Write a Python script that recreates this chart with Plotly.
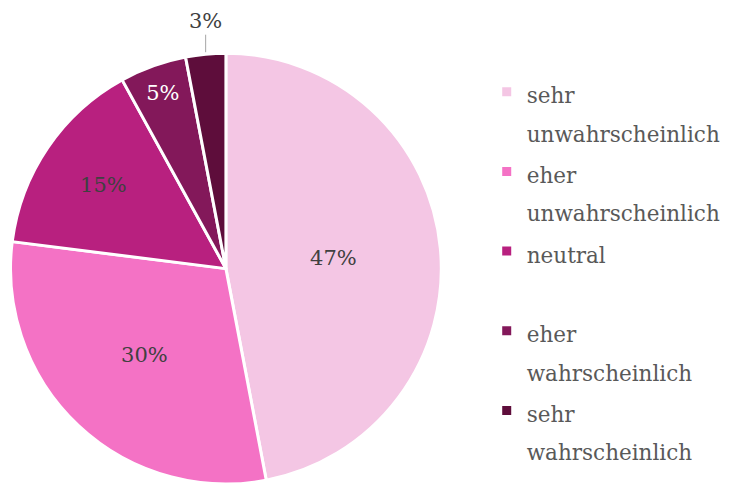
import math
import plotly.graph_objects as go

labels = ["sehr<br>unwahrscheinlich", "eher<br>unwahrscheinlich", "neutral<br>\u00a0",
          "eher<br>wahrscheinlich", "sehr<br>wahrscheinlich"]
values = [47, 30, 15, 5, 3]
colors = ["#F4C6E4", "#F472C5", "#B8207F", "#83185A", "#5E0D3B"]
text_colors = ["#404040", "#404040", "#404040", "#FFFFFF", "#404040"]
text_pos = ["inside", "inside", "inside", "inside", "none"]

W, H = 733, 484
FONT = "Palatino Linotype, Book Antiqua, Palatino, DejaVu Serif, serif"
LBL = 21
LEG = 21.5


def wrap(lbl):
    return "<br>".join(f"<span style='font-size:{LEG}px'>{p}</span>" for p in lbl.split("<br>"))


dom_x = [0.0096, 0.6068]
dom_y = [0.0, 0.89]

fig = go.Figure(go.Pie(
    labels=[wrap(l) for l in labels],
    values=values,
    sort=False,
    direction="clockwise",
    rotation=0,
    marker=dict(colors=colors, line=dict(color="white", width=3)),
    texttemplate="%{percent:.0%}",
    textposition=text_pos,
    insidetextorientation="horizontal",
    textfont=dict(family=FONT, size=LBL, color=text_colors),
    domain=dict(x=dom_x, y=dom_y),
    hoverinfo="skip",
))

# leader label for the smallest slice
total = sum(values)
cum = sum(values[:-1]) + values[-1] / 2
theta = 2 * math.pi * cum / total
r = min((dom_x[1] - dom_x[0]) * W, (dom_y[1] - dom_y[0]) * H) / 2
cx = (dom_x[0] + dom_x[1]) / 2 * W
cy = H - (dom_y[0] + dom_y[1]) / 2 * H
px = cx + r * math.sin(theta)
py = cy - r * math.cos(theta)
fig.add_annotation(
    x=px / W, y=1 - py / H, xref="paper", yref="paper",
    text=f"{round(values[-1] / total * 100)}%",
    showarrow=True, arrowhead=0, arrowwidth=1, arrowcolor="#A6A6A6",
    ax=0, ay=-33, standoff=2,
    font=dict(family=FONT, size=LBL, color="#404040"),
)

fig.update_layout(
    width=W, height=H,
    margin=dict(l=0, r=0, t=0, b=0, autoexpand=False),
    paper_bgcolor="white",
    plot_bgcolor="white",
    uniformtext=dict(minsize=LBL, mode="show"),
    legend=dict(
        x=0.664, y=1 - 66 / H, xanchor="left", yanchor="top",
        font=dict(family=FONT, size=29.5, color="#595959"),
        valign="top",
        traceorder="normal",
    ),
    showlegend=True,
)

fig.write_html("out.html", config={"displayModeBar": False},
               post_script="document.body.style.margin='0';")
